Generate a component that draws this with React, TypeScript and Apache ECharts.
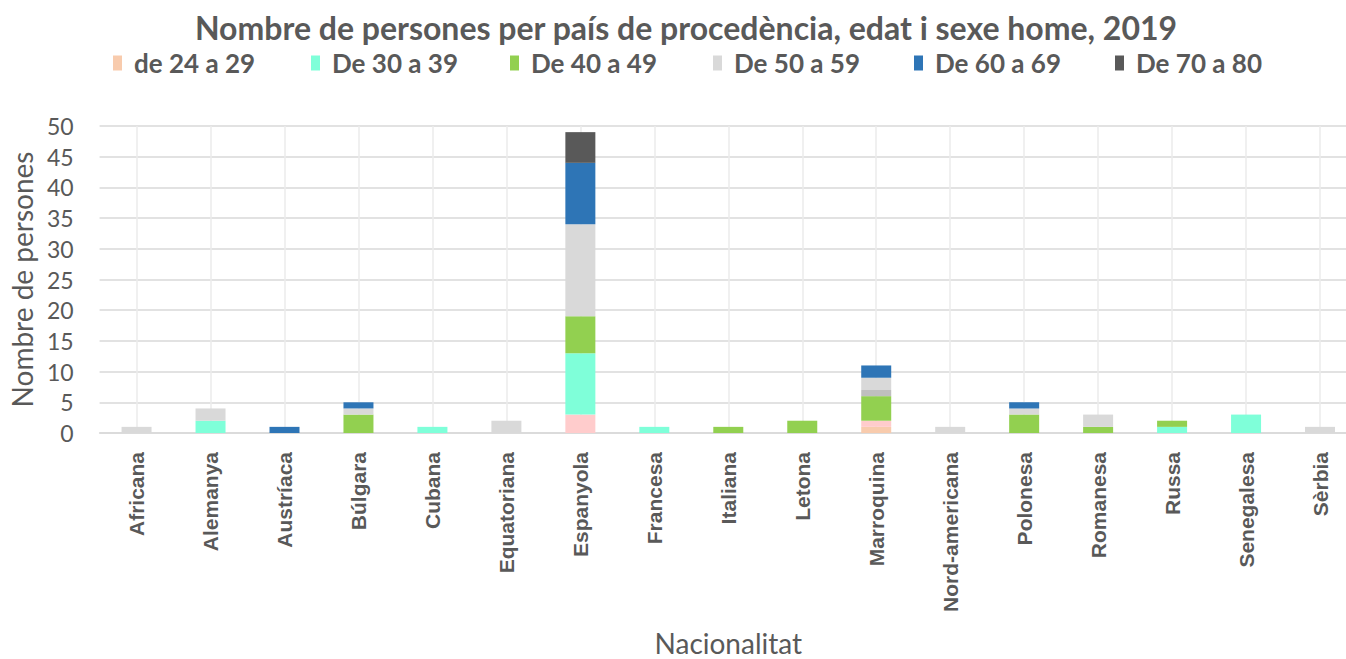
import React, { useEffect, useRef } from "react";
import * as echarts from "echarts";

const categories = [
  "Africana", "Alemanya", "Austríaca", "Búlgara", "Cubana", "Equatoriana", "Espanyola",
  "Francesa", "Italiana", "Letona", "Marroquina", "Nord-americana", "Polonesa",
  "Romanesa", "Russa", "Senegalesa", "Sèrbia",
];

const yTicks = [0, 5, 10, 15, 20, 25, 30, 35, 40, 45, 50];

// Stack order from bottom to top
const de24a29 = [0, 0, 0, 0, 0, 0, 0, 0, 0, 0, 1, 0, 0, 0, 0, 0, 0];
const rosaSenseLlegenda = [0, 0, 0, 0, 0, 0, 3, 0, 0, 0, 1, 0, 0, 0, 0, 0, 0];
const de30a39 = [0, 2, 0, 0, 1, 0, 10, 1, 0, 0, 0, 0, 0, 0, 1, 3, 0];
const de40a49 = [0, 0, 0, 3, 0, 0, 6, 0, 1, 2, 4, 0, 3, 1, 1, 0, 0];
const grisSenseLlegenda = [0, 0, 0, 0, 0, 0, 0, 0, 0, 0, 1, 0, 0, 0, 0, 0, 0];
const de50a59 = [1, 2, 0, 1, 0, 2, 15, 0, 0, 0, 2, 1, 1, 2, 0, 0, 1];
const de60a69 = [0, 0, 1, 1, 0, 0, 10, 0, 0, 0, 2, 0, 1, 0, 0, 0, 0];
const de70a80 = [0, 0, 0, 0, 0, 0, 5, 0, 0, 0, 0, 0, 0, 0, 0, 0, 0];

const legendNames = ["de 24 a 29", "De 30 a 39", "De 40 a 49", "De 50 a 59", "De 60 a 69", "De 70 a 80"];
const legendLefts = [113, 311, 510, 713, 914, 1115];

const seriesDefs = [
  { name: "de 24 a 29", data: de24a29, color: "#F8CBAD" },
  { name: "de 24 a 29 (b)", data: rosaSenseLlegenda, color: "#FFCCCC" },
  { name: "De 30 a 39", data: de30a39, color: "#7FFFD9" },
  { name: "De 40 a 49", data: de40a49, color: "#92D050" },
  { name: "De 50 a 59 (b)", data: grisSenseLlegenda, color: "#BFBFBF" },
  { name: "De 50 a 59", data: de50a59, color: "#D9D9D9" },
  { name: "De 60 a 69", data: de60a69, color: "#2E75B6" },
  { name: "De 70 a 80", data: de70a80, color: "#595959" },
];

export default function App() {
  const ref = useRef<HTMLDivElement>(null);
  useEffect(() => {
    if (!ref.current) return;
    const chart = echarts.init(ref.current, null, { renderer: "svg" });
    chart.setOption({
      animation: false,
      backgroundColor: "#ffffff",
      title: {
        text: "Nombre de persones per país de procedència, edat i sexe home, 2019",
        left: 681,
        textAlign: "center",
        top: 6,
        textStyle: { fontFamily: "Lato", fontWeight: "bold", fontSize: 32, color: "#595959" },
      },
      legend: legendNames.map((n, i) => ({
        data: [n],
        left: legendLefts[i],
        top: 50,
        padding: 0,
        itemWidth: 9,
        itemHeight: 15,
        itemGap: 6,
        icon: "rect",
        textStyle: {
          fontFamily: "Lato",
          fontWeight: "bold",
          fontSize: 26,
          color: "#595959",
          padding: [0, 0, 0, 7],
        },
      })),
      grid: { left: 94, right: 0, top: 126, bottom: 226, containLabel: false },
      xAxis: {
        type: "category",
        data: categories,
        name: "Nacionalitat",
        nameLocation: "middle",
        nameGap: 195,
        nameTextStyle: {
          fontFamily: "Lato",
          fontSize: 28,
          lineHeight: 30,
          color: "#595959",
          verticalAlign: "top",
        },
        axisLine: { lineStyle: { color: "#D9D9D9", width: 1.5 } },
        axisTick: { show: false },
        splitLine: { show: true, alignWithLabel: true, lineStyle: { color: "#EBEBEB", width: 1.5 } },
        axisLabel: {
          rotate: 90,
          margin: 19,
          fontFamily: "Liberation Sans",
          fontWeight: "bold",
          fontSize: 21,
          color: "#595959",
          interval: 0,
        },
      },
      yAxis: {
        type: "value",
        min: 0,
        max: 50,
        interval: 5,
        name: "Nombre de persones",
        nameLocation: "middle",
        nameGap: 52,
        nameRotate: 90,
        nameTextStyle: { fontFamily: "Lato", fontSize: 28, color: "#595959" },
        axisLine: { show: false },
        axisTick: { show: false },
        splitLine: { lineStyle: { color: "#D9D9D9", width: 1.5 } },
        axisLabel: {
          margin: 26,
          fontFamily: "Lato",
          fontSize: 23,
          color: "#595959",
          formatter: (v: number) => (yTicks.includes(v) ? String(v) : ""),
        },
      },
      series: seriesDefs.map((s) => ({
        name: s.name,
        type: "bar",
        stack: "total",
        barWidth: 30,
        data: s.data.map((v) => (v === 0 ? null : v)),
        itemStyle: { color: s.color },
      })),
    });
    return () => chart.dispose();
  }, []);
  return (
    <div
      style={{
        position: "fixed",
        left: 0,
        top: 0,
        width: 1346,
        height: 659,
        overflow: "hidden",
        background: "#fff",
      }}
    >
      <div ref={ref} style={{ width: 1357, height: 659 }} />
    </div>
  );
}
